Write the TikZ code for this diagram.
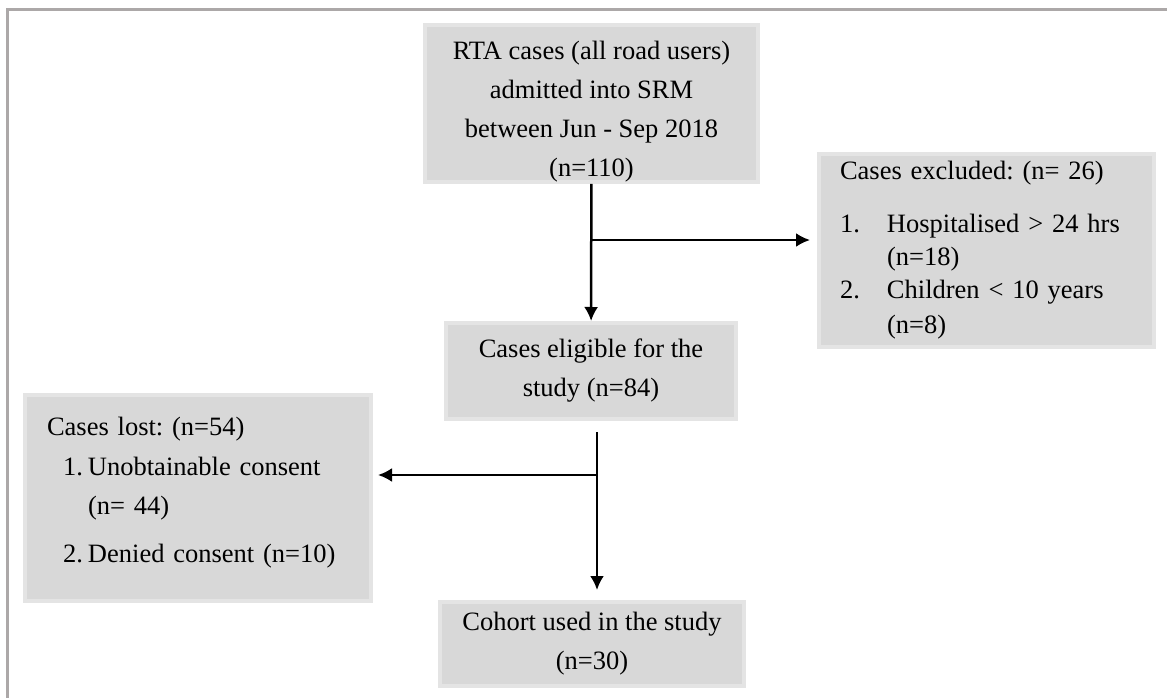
\documentclass[tikz,border=0pt]{standalone}
\usepackage{fontspec}
\setmainfont{Liberation Serif}
\usepackage{xcolor}
\usepackage{tikz}
\usetikzlibrary{calc}
\usetikzlibrary{arrows}
\usetikzlibrary{arrows.meta}
\usetikzlibrary{positioning}
\frenchspacing
\definecolor{boxgray}{HTML}{D8D8D8}
\definecolor{edgegray}{HTML}{E4E4E4}
\definecolor{framegray}{HTML}{ACA8A8}
\tikzset{>=latex}
\tikzstyle{stage} = [rectangle, fill = boxgray, draw = edgegray, line width = 4pt, inner sep = 0pt, align = center, font = \fontsize{26.5}{39}\selectfont]
\tikzstyle{listbox} = [stage, align = left, font = \fontsize{26.5}{33}\selectfont]
\tikzstyle{flow} = [-{Latex[length=14pt, width=14pt]}, draw = black, line width = 2.5pt]

\begin{document}
\begin{tikzpicture}[x = 1pt, y = -1pt]
 \useasboundingbox (0, 0) rectangle (1167, 698);
 \draw [draw = framegray, line width = 3pt] (7.5, 698) -- (7.5, 9.5) -- (1167, 9.5);
 \node [stage, minimum width = 333pt, minimum height = 155pt] (rta) at (591.5, 103.5) {\rule{0pt}{34pt}RTA cases (all road users)\\ admitted into SRM\\ between Jun - Sep 2018\\ (n=110)};
 \node [stage, minimum width = 290pt, minimum height = 96pt] (elig) at (591, 371) {Cases eligible for the\\ study (n=84)};
 \node [stage, minimum width = 304pt, minimum height = 84pt] (cohort) at (592, 644) {Cohort used in the study\\ (n=30)};
 \node [listbox, minimum width = 335pt, minimum height = 193pt, text width = 293pt] (excl) at (986.5, 250.5) {Cases excluded: (n= 26)\\[20pt]
  \makebox[47pt][l]{1.}Hospitalised > 24 hrs\\
  \hspace*{47pt}(n=18)\\
  \makebox[47pt][l]{2.}Children < 10 years\\[2pt]
  \hspace*{47pt}(n=8)};
 \node [listbox, minimum width = 346pt, minimum height = 206pt, text width = 302pt] (lost) at (198, 498) {Cases lost: (n=54)\\[7pt]
  \hspace*{16pt}\makebox[25pt][l]{1.}Unobtainable consent\\[6pt]
  \hspace*{41pt}(n= 44)\\[15pt]
  \hspace*{16pt}\makebox[25pt][l]{2.}Denied consent (n=10)\rule[-16pt]{0pt}{1pt}};
 \coordinate (exclsplit) at (592, 240);
 \coordinate (eligout) at (597, 432);
 \coordinate (lostsplit) at (597, 475);
 \draw [flow] (rta) to (elig);
 \draw [flow, shorten >= 7pt] (exclsplit) to (exclsplit -| excl.west);
 \draw [flow, shorten >= 10pt] (eligout) to (eligout |- cohort.north);
 \draw [flow, shorten >= 5pt] (lostsplit) to (lostsplit -| lost.east);
\end{tikzpicture}
\end{document}
